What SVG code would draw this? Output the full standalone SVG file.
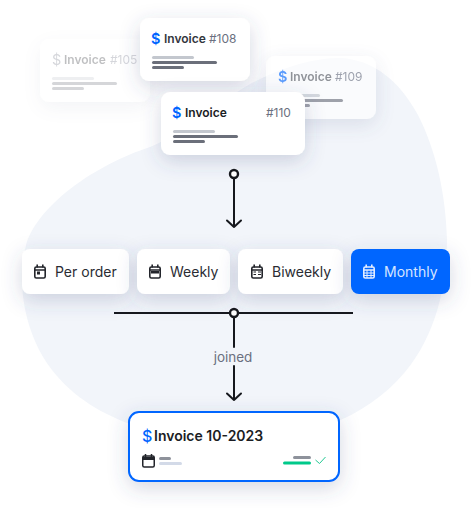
<svg xmlns="http://www.w3.org/2000/svg" width="472" height="508" viewBox="0 0 472 508">
<style>
text{font-family:Inter,"Liberation Sans",sans-serif}
.card{fill:#fff;filter:url(#sh)}
.t{font-size:12px;font-weight:600;fill:#1b1d24}
.n{font-size:12px;fill:#6b7080}
.d{font-size:14.500px;font-weight:600;fill:#0066ff}
.p{font-size:14px;fill:#2a2c33}
.c{fill:none;stroke:#16181d;stroke-width:2;stroke-linecap:round;stroke-linejoin:round}
.ic{fill:none;stroke:#23252b;stroke-width:1.600}
</style>
<defs>
<filter id="sh" x="-50%" y="-70%" width="200%" height="260%"><feDropShadow dx="0" dy="6" stdDeviation="10" flood-color="#3c5078" flood-opacity=".22"/></filter>
<g id="bars"><rect x="0" y="0" width="42" height="3" rx="1.500" fill="#c3c7ce"/><rect x="0" y="5" width="65" height="3" rx="1.500" fill="#6b6f7a"/><rect x="0" y="10" width="32" height="3" rx="1.500" fill="#6b6f7a"/></g>
<g id="cal"><rect x="0.800" y="2.500" width="10.400" height="11" rx="1.500"/><path d="M3.200 0V3M8.800 0V3M.8 5.500H11.200"/></g>
</defs>
<path id="blob" fill="#f2f5fa" d="M150 147C190 130 215 105 245 87C275 70 310 58 340 58C375 60 400 82 418 115C436 150 446 195 447 240C447 285 436 335 405 372C365 420 300 442 235 441C170 440 95 425 52 370C25 335 16 285 26 245C38 205 95 165 150 147Z"/>
<g id="card-105" opacity=".28"><rect class="card" x="40" y="39" width="110" height="63" rx="9"/><text class="d" x="52" y="64.500" style="fill:#6b7080;font-weight:400">$</text><text x="64" y="64" class="t">Invoice</text><text x="110" y="64" class="n">#105</text><use href="#bars" x="52" y="77"/></g>
<g id="card-109" opacity=".62"><rect class="card" x="266" y="56" width="110" height="63" rx="9"/><text class="d" x="278" y="81.500">$</text><text x="290" y="81" class="t" style="fill:#55585f">Invoice</text><text x="335" y="81" class="n">#109</text><use href="#bars" x="278" y="94"/></g>
<g id="card-108"><rect class="card" x="140" y="18" width="110" height="63" rx="9"/><text class="d" x="151" y="43.500">$</text><text x="164" y="43" class="t" style="fill:#33363d">Invoice</text><text x="209" y="43" class="n">#108</text><use href="#bars" x="152" y="56"/></g>
<g id="card-110"><rect class="card" x="161" y="92" width="144" height="63" rx="9"/><text class="d" x="172" y="117.500">$</text><text x="185" y="117" class="t">Invoice</text><text x="266" y="117" class="n">#110</text><use href="#bars" x="173" y="130"/></g>
<g id="connectors">
<path class="c" d="M234 179V227M227 220.500L234 227L241 220.500"/>
<circle cx="234" cy="174" r="4" fill="#fff" stroke="#16181d" stroke-width="2.400"/>
<path d="M114 313H353" fill="none" stroke="#16181d" stroke-width="2"/>
<path class="c" d="M234 317V347M234 366V400M227 393.500L234 400L241 393.500"/>
<circle cx="234" cy="313" r="4" fill="#fff" stroke="#16181d" stroke-width="2.400"/>
<text x="233" y="362" text-anchor="middle" font-size="13.500" fill="#6b7080">joined</text>
</g>
<g id="per-order"><rect class="card" x="22" y="249" width="107" height="45" rx="8"/><use href="#cal" x="34" y="264.500" class="ic"/><rect x="37" y="271.500" width="3" height="3" fill="#23252b"/><text class="p" x="55" y="277">Per order</text></g>
<g id="weekly"><rect class="card" x="137" y="249" width="93" height="45" rx="8"/><use href="#cal" x="149" y="264.500" class="ic"/><rect x="151" y="271" width="8" height="2.500" fill="#23252b"/><text class="p" x="170" y="277">Weekly</text></g>
<g id="biweekly"><rect class="card" x="238" y="249" width="105" height="45" rx="8"/><use href="#cal" x="251" y="264.500" class="ic"/><path d="M253.500 272H256M258 272H261M253.500 274.500H256M258 274.500H261" stroke="#23252b" fill="none"/><text class="p" x="272" y="277">Biweekly</text></g>
<g id="monthly"><rect class="card" x="351" y="249" width="99" height="45" rx="8" style="fill:#0066ff"/><use href="#cal" x="363" y="264.500" class="ic" style="stroke:#e3edff"/><path d="M363.500 273H375M363.500 275.500H375M367 270V278M371 270V278" stroke="#e3edff" fill="none"/><text class="p" x="384" y="277" style="fill:#d6e5ff">Monthly</text></g>
<g id="result"><rect class="card" x="129" y="412" width="210" height="69" rx="10" style="stroke:#0066ff;stroke-width:2"/><text x="142" y="441.500" font-size="16" font-weight="500" fill="#0066ff">$</text><text x="154" y="441" font-size="14" font-weight="600" fill="#1b1d24">Invoice 10-2023</text>
<g fill="none" stroke="#23252b" stroke-width="1.500"><rect x="142.750" y="456" width="11.500" height="11" rx="1.500"/><path d="M145.500 454V457M151.500 454V457"/><path d="M143 458.500H154" stroke-width="3"/></g>
<rect x="159" y="457" width="12" height="3" rx="1.500" fill="#8e929b"/><rect x="159" y="462" width="23" height="3" rx="1.500" fill="#d3dae8"/>
<rect x="293" y="456" width="18" height="3" rx="1.500" fill="#8e929b"/><rect x="283" y="461.500" width="28" height="3" rx="1.500" fill="#00c98a"/><path d="M315.500 460L319.500 463.500L325.500 457" fill="none" stroke="#22c993" stroke-width="1"/></g>
</svg>
